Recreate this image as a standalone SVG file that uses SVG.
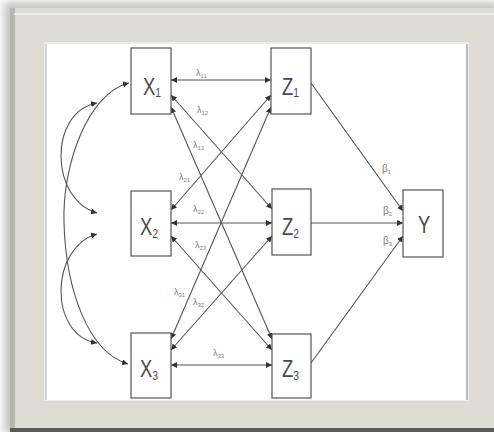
<svg xmlns="http://www.w3.org/2000/svg" width="494" height="432" viewBox="0 0 494 432">
<style>
.box{fill:#fff;stroke:#555;stroke-width:1.2}
.lt{font-family:"Liberation Sans",Arial,sans-serif;fill:#4a4a4a;font-size:23px}
.sb{font-size:13px}
.lam{font-family:"Liberation Sans",Arial,sans-serif;fill:#808080;font-size:9px}
.ls{font-size:6px}
.bet{font-family:"Liberation Sans",Arial,sans-serif;fill:#808080;font-size:10px}
.c{fill:none;stroke:#555;stroke-width:1.1}
</style>
<defs>
<marker id="ah" viewBox="0 0 6 6" refX="6" refY="3" markerWidth="6" markerHeight="6" markerUnits="userSpaceOnUse" orient="auto-start-reverse">
<path d="M0,0 L6,3 L0,6 z" fill="#333"/>
</marker>
<filter id="sh" x="-5%" y="-5%" width="110%" height="110%">
<feGaussianBlur stdDeviation="4"/>
</filter>
</defs>
<rect width="494" height="432" fill="#fff"/>
<rect x="4" y="2" width="494" height="432" fill="#9a9a9a" filter="url(#sh)" opacity="0.6"/>
<g id="frame">
<rect x="10" y="8" width="484" height="420" fill="#dddbd4"/>
<rect x="10" y="8" width="5" height="420" fill="#b7b6ae"/>
<line x1="14" y1="14" x2="494" y2="14" stroke="#f4f3ee" stroke-width="1.5"/>
<rect x="10" y="428" width="484" height="4" fill="#5a5a58"/>
<rect x="44" y="42" width="425" height="359" fill="#eeeeee"/>
<rect x="46" y="44" width="421" height="356" fill="#fff"/>
<line x1="467" y1="44" x2="467" y2="400" stroke="#a8a8a8" stroke-width="1.5"/>
<line x1="46" y1="44" x2="46" y2="400" stroke="#c8c8c8" stroke-width="1.5"/>
</g>
<g id="connectors">
<line class="c" x1="171" y1="80" x2="271" y2="80" marker-start="url(#ah)" marker-end="url(#ah)"/>
<line class="c" x1="171" y1="95" x2="272" y2="209" marker-start="url(#ah)" marker-end="url(#ah)"/>
<line class="c" x1="171" y1="107" x2="272" y2="339" marker-start="url(#ah)" marker-end="url(#ah)"/>
<line class="c" x1="271" y1="95" x2="171" y2="210" marker-start="url(#ah)" marker-end="url(#ah)"/>
<line class="c" x1="171" y1="223" x2="272" y2="223" marker-start="url(#ah)" marker-end="url(#ah)"/>
<line class="c" x1="171" y1="236" x2="272" y2="350" marker-start="url(#ah)" marker-end="url(#ah)"/>
<line class="c" x1="271" y1="107" x2="171" y2="339" marker-start="url(#ah)" marker-end="url(#ah)"/>
<line class="c" x1="272" y1="236" x2="171" y2="350" marker-start="url(#ah)" marker-end="url(#ah)"/>
<line class="c" x1="171" y1="365" x2="272" y2="365" marker-start="url(#ah)" marker-end="url(#ah)"/>
<line class="c" x1="311" y1="83" x2="403" y2="211" marker-end="url(#ah)"/>
<line class="c" x1="311" y1="223" x2="403" y2="223" marker-end="url(#ah)"/>
<line class="c" x1="311" y1="363" x2="403" y2="236" marker-end="url(#ah)"/>
<path class="c" d="M129,83 C88,93 62,165 64,223 C66,290 88,352 128,364" marker-start="url(#ah)" marker-end="url(#ah)"/>
<path class="c" d="M97,103 C48,112 50,200 97,213" marker-start="url(#ah)" marker-end="url(#ah)"/>
<path class="c" d="M97,234 C50,247 48,335 97,343" marker-start="url(#ah)" marker-end="url(#ah)"/>
<text class="lam" x="196" y="76">λ<tspan class="ls" dy="2">11</tspan></text>
<text class="lam" x="197" y="113">λ<tspan class="ls" dy="2">12</tspan></text>
<text class="lam" x="193" y="148">λ<tspan class="ls" dy="2">13</tspan></text>
<text class="lam" x="179" y="180">λ<tspan class="ls" dy="2">21</tspan></text>
<text class="lam" x="193" y="212">λ<tspan class="ls" dy="2">22</tspan></text>
<text class="lam" x="195" y="248">λ<tspan class="ls" dy="2">23</tspan></text>
<text class="lam" x="174" y="295">λ<tspan class="ls" dy="2">31</tspan></text>
<text class="lam" x="193" y="305">λ<tspan class="ls" dy="2">32</tspan></text>
<text class="lam" x="213" y="356">λ<tspan class="ls" dy="2">33</tspan></text>
<text class="bet" x="382" y="172">β<tspan class="ls" dy="2">1</tspan></text>
<text class="bet" x="383" y="214">β<tspan class="ls" dy="2">2</tspan></text>
<text class="bet" x="383" y="244">β<tspan class="ls" dy="2">3</tspan></text>
</g>
<g id="X1"><rect class="box" x="131" y="48" width="40" height="66"/><text class="lt" transform="translate(143,95) scale(0.8,1)">X<tspan class="sb" dy="2">1</tspan></text></g>
<g id="X2"><rect class="box" x="131" y="191" width="40" height="65"/><text class="lt" transform="translate(140,235) scale(0.8,1)">X<tspan class="sb" dy="3">2</tspan></text></g>
<g id="X3"><rect class="box" x="131" y="333" width="40" height="65"/><text class="lt" transform="translate(140,377) scale(0.8,1)">X<tspan class="sb" dy="3">3</tspan></text></g>
<g id="Z1"><rect class="box" x="271" y="48" width="40" height="66"/><text class="lt" transform="translate(282,95) scale(0.8,1)">Z<tspan class="sb" dy="2">1</tspan></text></g>
<g id="Z2"><rect class="box" x="272" y="189" width="39" height="66"/><text class="lt" transform="translate(282,235) scale(0.8,1)">Z<tspan class="sb" dy="3">2</tspan></text></g>
<g id="Z3"><rect class="box" x="272" y="334" width="39" height="64"/><text class="lt" transform="translate(282,377) scale(0.8,1)">Z<tspan class="sb" dy="3">3</tspan></text></g>
<g id="Y"><rect class="box" x="403" y="190" width="40" height="67"/><text class="lt" transform="translate(418,233) scale(0.8,1)">Y</text></g>
</svg>
